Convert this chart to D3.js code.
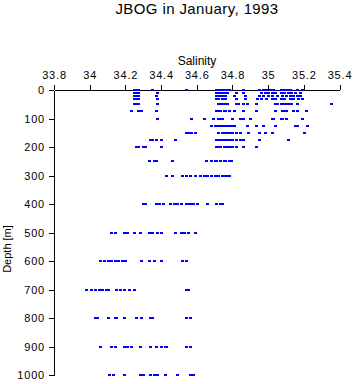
<!DOCTYPE html>
<html>
<head>
<meta charset="utf-8" />
<title>JBOG in January, 1993</title>
<script src="https://d3js.org/d3.v7.min.js"></script>
<style type="text/css">
body { margin: 0; background: #fff; }
text { font-family: "Liberation Sans", Arial, sans-serif; fill: #000; }
</style>
</head>
<body>
<div id="svg"></div>
<script type="text/javascript">
var width = 353,
    height = 384;

// depth levels [m] and the salinities measured at each level
var depths = [0, 10, 20, 30, 50, 75, 100, 125, 150, 175, 200, 250, 300, 400, 500, 600, 700, 800, 900, 1000];
var salinity = [
  [34.25, 34.26, 34.27, 34.35, 34.54, 34.71, 34.72, 34.73, 34.74, 34.75, 34.76, 34.77, 34.78, 34.86, 34.95, 34.97, 34.99, 35.01, 35.03, 35.07, 35.08, 35.09, 35.10, 35.11, 35.12, 35.16, 35.19],
  [34.25, 34.26, 34.27, 34.38, 34.71, 34.72, 34.73, 34.74, 34.75, 34.76, 34.77, 34.82, 34.86, 34.96, 34.98, 35.00, 35.02, 35.04, 35.07, 35.09, 35.11, 35.13, 35.15, 35.18],
  [34.25, 34.26, 34.27, 34.37, 34.71, 34.72, 34.73, 34.74, 34.75, 34.76, 34.81, 34.87, 34.95, 34.97, 35.00, 35.02, 35.05, 35.08, 35.10, 35.12, 35.14, 35.16, 35.18],
  [34.25, 34.26, 34.27, 34.38, 34.71, 34.72, 34.74, 34.76, 34.82, 34.87, 34.94, 34.96, 34.99, 35.02, 35.04, 35.07, 35.09, 35.12, 35.14, 35.17, 35.19],
  [34.25, 34.26, 34.27, 34.38, 34.72, 34.73, 34.74, 34.75, 34.77, 34.82, 34.83, 34.86, 34.88, 34.93, 35.04, 35.05, 35.07, 35.08, 35.09, 35.10, 35.11, 35.12, 35.13, 35.16, 35.35],
  [34.23, 34.27, 34.28, 34.29, 34.37, 34.71, 34.72, 34.73, 34.75, 34.76, 34.78, 34.81, 34.86, 34.93, 35.04, 35.08, 35.09, 35.10, 35.14, 35.16, 35.21],
  [34.38, 34.57, 34.64, 34.69, 34.72, 34.73, 34.74, 34.80, 34.84, 34.85, 34.86, 34.90, 35.02, 35.03, 35.07, 35.08, 35.10, 35.19],
  [34.68, 34.70, 34.71, 34.72, 34.73, 34.74, 34.75, 34.76, 34.77, 34.78, 34.79, 34.81, 34.88, 34.93, 34.97, 35.04, 35.15, 35.16, 35.22],
  [34.54, 34.55, 34.57, 34.59, 34.72, 34.74, 34.75, 34.76, 34.77, 34.78, 34.80, 34.82, 34.84, 34.89, 34.95, 34.98, 35.02, 35.20],
  [34.34, 34.35, 34.37, 34.40, 34.48, 34.71, 34.72, 34.73, 34.74, 34.75, 34.77, 34.78, 34.80, 34.82, 34.84, 34.86, 34.95, 35.11],
  [34.26, 34.27, 34.30, 34.31, 34.40, 34.71, 34.72, 34.73, 34.75, 34.76, 34.77, 34.78, 34.80, 34.82, 34.86, 34.93],
  [34.33, 34.36, 34.37, 34.46, 34.65, 34.68, 34.70, 34.71, 34.73, 34.75, 34.76, 34.78, 34.79],
  [34.43, 34.46, 34.52, 34.54, 34.56, 34.59, 34.62, 34.64, 34.66, 34.68, 34.70, 34.72, 34.74, 34.75, 34.77, 34.78],
  [34.30, 34.31, 34.37, 34.39, 34.41, 34.45, 34.47, 34.49, 34.51, 34.54, 34.55, 34.57, 34.58, 34.60, 34.66, 34.71, 34.73, 34.74],
  [34.12, 34.14, 34.19, 34.21, 34.25, 34.28, 34.33, 34.35, 34.38, 34.40, 34.48, 34.51, 34.53, 34.55, 34.59],
  [34.06, 34.08, 34.10, 34.12, 34.14, 34.16, 34.18, 34.20, 34.29, 34.33, 34.36, 34.40, 34.52, 34.54],
  [33.98, 34.01, 34.03, 34.05, 34.07, 34.09, 34.10, 34.15, 34.17, 34.19, 34.22, 34.25, 34.54, 34.55],
  [34.03, 34.04, 34.10, 34.14, 34.15, 34.19, 34.26, 34.29, 34.34, 34.35, 34.54, 34.56],
  [34.06, 34.12, 34.14, 34.19, 34.21, 34.23, 34.28, 34.34, 34.37, 34.40, 34.42, 34.43, 34.54, 34.56],
  [34.11, 34.13, 34.19, 34.28, 34.30, 34.34, 34.36, 34.38, 34.42, 34.49, 34.56, 34.58]
];
var salTicks = [33.8, 34, 34.2, 34.4, 34.6, 34.8, 35, 35.2, 35.4];
var depthTicks = [0, 100, 200, 300, 400, 500, 600, 700, 800, 900, 1000];

var points = [];
depths.forEach(function(d, i) {
  salinity[i].forEach(function(s) { points.push({depth: d, sal: s}); });
});

var svg = d3.select("#svg")
    .append("svg")
    .attr("width", width)
    .attr("height", height);

var xScale = d3.scaleLinear()
    .domain([33.8, 35.4])
    .range([54, 339.5]);

var yScale = d3.scaleLinear()
    .domain([0, 1000])
    .range([90, 375]);

var xAxis = d3.axisTop(xScale)
    .tickValues(salTicks)
    .tickSize(5)
    .tickSizeOuter(0)
    .tickPadding(6)
    .tickFormat(d3.format(".1~f"));

var yAxis = d3.axisLeft(yScale)
    .tickValues(depthTicks)
    .tickSize(5)
    .tickSizeOuter(0)
    .tickPadding(4)
    .tickFormat(d3.format("d"));

var gX = svg.append("g")
    .attr("transform", "translate(0,90)")
    .call(xAxis);

var gY = svg.append("g")
    .attr("transform", "translate(54,0)")
    .call(yAxis);

svg.selectAll(".tick text")
    .attr("font-family", "Liberation Sans, Arial, sans-serif")
    .attr("font-size", 11)
    .attr("letter-spacing", 0.8);

svg.selectAll(".domain, .tick line")
    .attr("stroke", "#000")
    .attr("shape-rendering", "crispEdges");

svg.append("g")
    .selectAll("rect")
    .data(points)
    .enter()
    .append("rect")
    .attr("x", d => Math.round(xScale(d.sal)) - 1)
    .attr("y", d => Math.round(yScale(d.depth)) - 1)
    .attr("width", 3)
    .attr("height", 2)
    .attr("fill", "#0000ff")
    .attr("shape-rendering", "crispEdges");

svg.append("text")
    .attr("x", 197)
    .attr("y", 14)
    .attr("text-anchor", "middle")
    .attr("font-size", 15)
    .attr("letter-spacing", 0.4)
    .text("JBOG in January, 1993");

svg.append("text")
    .attr("x", 197)
    .attr("y", 65)
    .attr("text-anchor", "middle")
    .attr("font-size", 12)
    .text("Salinity");

svg.append("text")
    .attr("transform", "translate(11,249) rotate(-90)")
    .attr("text-anchor", "middle")
    .attr("font-size", 11)
    .text("Depth [m]");
</script>
</body>
</html>
